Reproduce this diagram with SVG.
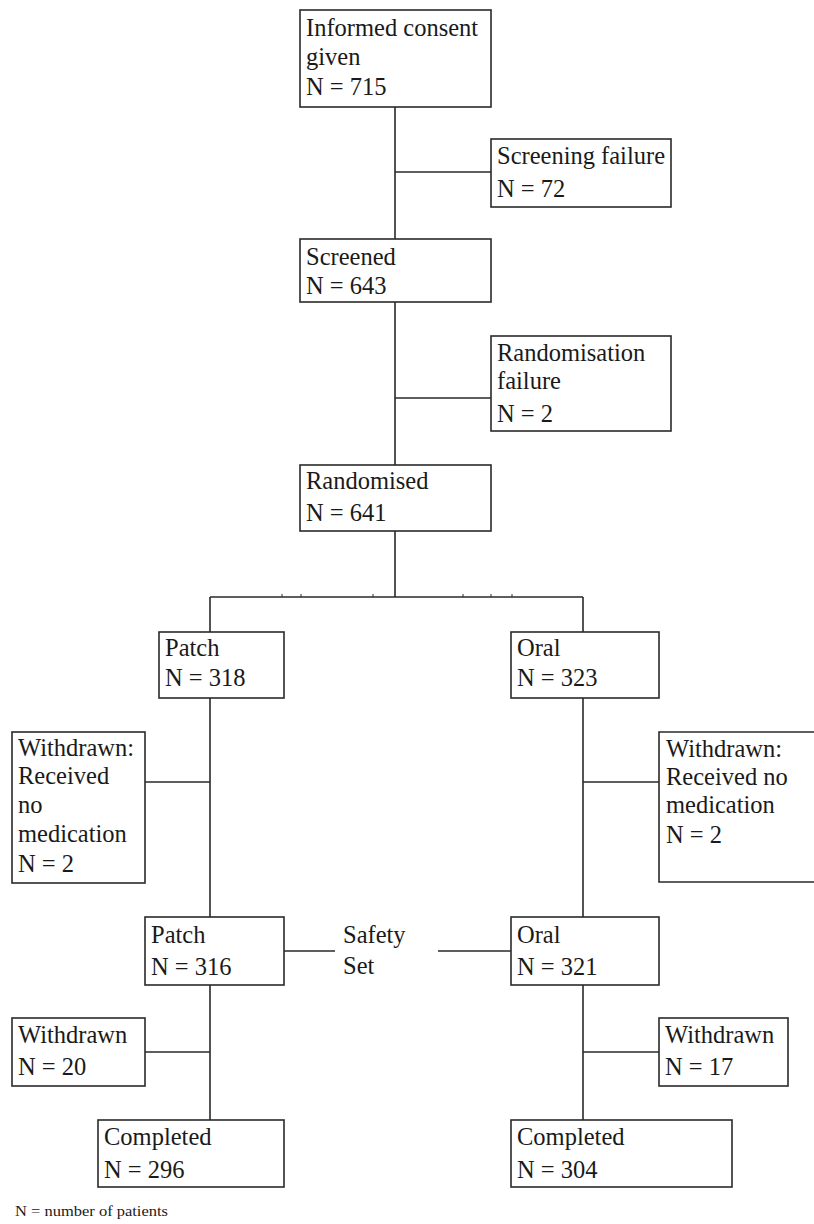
<svg xmlns="http://www.w3.org/2000/svg" width="814" height="1224" viewBox="0 0 814 1224">
<style>
.box{fill:#fff;stroke:#2a2a2a;stroke-width:1.6}
.ln{fill:none;stroke:#2a2a2a;stroke-width:1.6}
.tk{fill:none;stroke:#2a2a2a;stroke-width:1}
.t{font-family:'Liberation Serif','Times New Roman',Times,'DejaVu Serif',serif;font-size:24.5px;fill:#1a1a1a}
.fn{font-size:14px}
</style>
<rect width="814" height="1224" fill="#fff"/>
<g id="connectors">
<path class="ln" d="M395 107V239M395 172H491M395 302V465M395 398H491M395 531V597M210 597H583"/>
<path class="tk" d="M282 594V597M301 594V597M373 594V597M463 594V597M491 594V597M512 594V597"/>
<path class="ln" d="M210 597V632M210 698V917M145 782H210M210 985V1120M145 1052H210"/>
<path class="ln" d="M583 597V632M583 698V917M583 782H659M583 985V1120M583 1052H659"/>
<path class="ln" d="M284 951H335M438 951H511"/>
<text class="t" x="343" y="943">Safety</text>
<text class="t" x="343" y="974">Set</text>
</g>
<g id="consent"><rect class="box" x="300" y="10" width="191" height="97"/>
<text class="t" x="306" y="36">Informed consent</text><text class="t" x="306" y="65">given</text><text class="t" x="306" y="95">N = 715</text></g>
<g id="screenfail"><rect class="box" x="491" y="139" width="180" height="68"/>
<text class="t" x="497" y="164">Screening failure</text><text class="t" x="497" y="197">N = 72</text></g>
<g id="screened"><rect class="box" x="300" y="239" width="191" height="63"/>
<text class="t" x="306" y="265">Screened</text><text class="t" x="306" y="294">N = 643</text></g>
<g id="randfail"><rect class="box" x="491" y="336" width="180" height="95"/>
<text class="t" x="497" y="361">Randomisation</text><text class="t" x="497" y="389">failure</text><text class="t" x="497" y="422">N = 2</text></g>
<g id="randomised"><rect class="box" x="300" y="465" width="191" height="66"/>
<text class="t" x="306" y="489">Randomised</text><text class="t" x="306" y="521">N = 641</text></g>
<g id="patch318"><rect class="box" x="159" y="632" width="125" height="66"/>
<text class="t" x="165" y="656">Patch</text><text class="t" x="165" y="686">N = 318</text></g>
<g id="oral323"><rect class="box" x="511" y="632" width="148" height="66"/>
<text class="t" x="517" y="656">Oral</text><text class="t" x="517" y="686">N = 323</text></g>
<g id="withdrawn-patch-nomed"><rect class="box" x="12" y="732" width="133" height="151"/>
<text class="t" x="18" y="756">Withdrawn:</text><text class="t" x="18" y="784">Received</text><text class="t" x="18" y="813">no</text><text class="t" x="18" y="842">medication</text><text class="t" x="18" y="872">N = 2</text></g>
<g id="withdrawn-oral-nomed"><path class="box" d="M815 732H659V882H815"/>
<text class="t" x="666" y="757">Withdrawn:</text><text class="t" x="666" y="785">Received no</text><text class="t" x="666" y="813">medication</text><text class="t" x="666" y="843">N = 2</text></g>
<g id="patch316"><rect class="box" x="145" y="917" width="139" height="68"/>
<text class="t" x="151" y="943">Patch</text><text class="t" x="151" y="975">N = 316</text></g>
<g id="oral321"><rect class="box" x="511" y="917" width="148" height="68"/>
<text class="t" x="517" y="943">Oral</text><text class="t" x="517" y="975">N = 321</text></g>
<g id="withdrawn20"><rect class="box" x="12" y="1018" width="133" height="68"/>
<text class="t" x="18" y="1043">Withdrawn</text><text class="t" x="18" y="1075">N = 20</text></g>
<g id="withdrawn17"><rect class="box" x="659" y="1018" width="129" height="68"/>
<text class="t" x="665" y="1043">Withdrawn</text><text class="t" x="665" y="1075">N = 17</text></g>
<g id="completed296"><rect class="box" x="98" y="1120" width="186" height="67"/>
<text class="t" x="104" y="1145">Completed</text><text class="t" x="104" y="1178">N = 296</text></g>
<g id="completed304"><rect class="box" x="511" y="1120" width="221" height="67"/>
<text class="t" x="517" y="1145">Completed</text><text class="t" x="517" y="1178">N = 304</text></g>
<text class="t fn" x="15" y="1216" textLength="153" lengthAdjust="spacingAndGlyphs">N = number of patients</text>
</svg>
